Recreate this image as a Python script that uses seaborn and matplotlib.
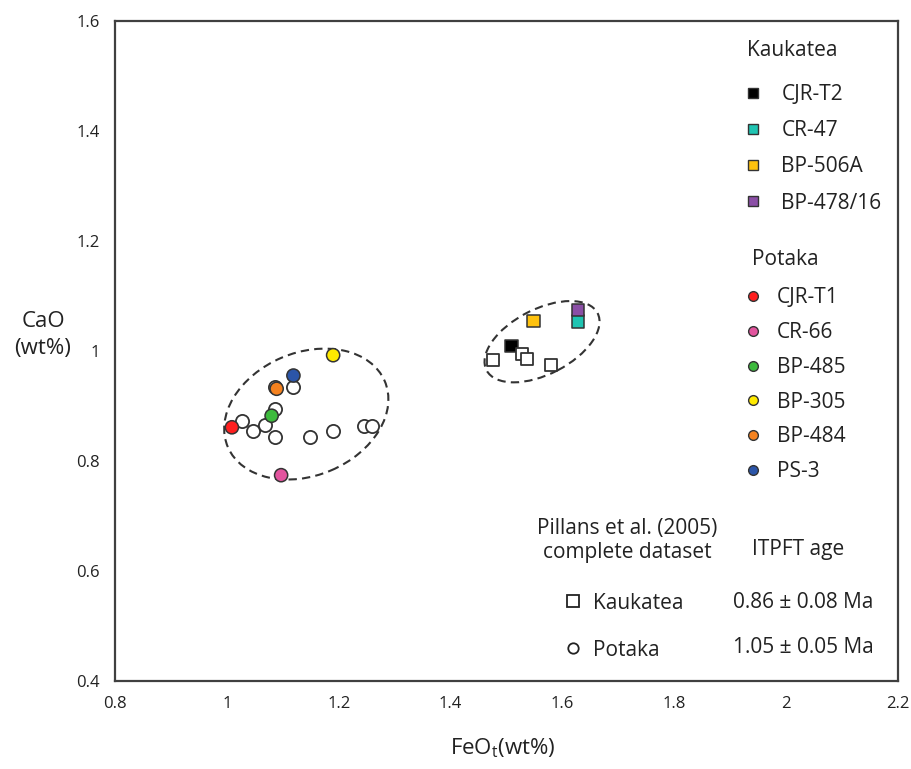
import matplotlib
matplotlib.use("Agg")
import matplotlib.pyplot as plt
from matplotlib.lines import Line2D
from matplotlib.patches import Ellipse
import pandas as pd
import seaborn as sns

# Kaukatea samples (this study)
kauk_names = ['CJR-T2', 'CR-47', 'BP-506A', 'BP-478/16']
kauk_feo = [1.509, 1.628, 1.548, 1.628]
kauk_cao = [1.009, 1.053, 1.054, 1.074]
kauk_colors = ['#000000', '#1fc4b2', '#ffc20e', '#8b4fa6']

# Potaka samples (this study)
pot_names = ['CJR-T1', 'CR-66', 'BP-485', 'BP-305', 'BP-484', 'PS-3']
pot_feo = [1.009, 1.097, 1.080, 1.190, 1.089, 1.119]
pot_cao = [0.861, 0.774, 0.882, 0.992, 0.931, 0.955]
pot_colors = ['#ff1f1f', '#e2549e', '#3dba3d', '#ffea00', '#f5821f', '#2b55a8']

# Pillans et al. (2005) complete dataset
pil_kauk_feo = [1.527, 1.537, 1.476, 1.579]
pil_kauk_cao = [0.995, 0.985, 0.984, 0.974]
pil_pot_feo = [1.027, 1.047, 1.068, 1.086, 1.086, 1.119, 1.149, 1.189, 1.246, 1.259, 1.086]
pil_pot_cao = [0.873, 0.854, 0.865, 0.895, 0.843, 0.934, 0.843, 0.854, 0.864, 0.864, 0.935]

ages = ['0.86 \u00b1 0.08 Ma', '1.05 \u00b1 0.05 Ma']

sns.set_style('white')
plt.rcParams['font.family'] = ['Open Sans', 'DejaVu Sans']
edge = '#333333'
txt = '#222222'

df_k = pd.DataFrame({'FeO': kauk_feo, 'CaO': kauk_cao, 'sample': kauk_names})
df_p = pd.DataFrame({'FeO': pot_feo, 'CaO': pot_cao, 'sample': pot_names})
df_pk = pd.DataFrame({'FeO': pil_kauk_feo, 'CaO': pil_kauk_cao})
df_pp = pd.DataFrame({'FeO': pil_pot_feo, 'CaO': pil_pot_cao})

fig = plt.figure(figsize=(9.12, 7.69), dpi=100)
ax = fig.add_axes([0.1261, 0.1144, 0.8586, 0.8589])

# group outlines
ax.add_patch(Ellipse((1.142, 0.885), 0.305, 0.223, angle=23.4, fill=False,
                     ec=edge, lw=1.5, ls=(0, (4, 2.5))))
ax.add_patch(Ellipse((1.5635, 1.0165), 0.224, 0.118, angle=27.8, fill=False,
                     ec=edge, lw=1.5, ls=(0, (4, 2.5))))

sns.scatterplot(data=df_pp, x='FeO', y='CaO', marker='o', s=90, color='white',
                edgecolor=edge, linewidth=1.3, ax=ax, zorder=3)
sns.scatterplot(data=df_p, x='FeO', y='CaO', hue='sample', marker='o', s=90,
                palette=dict(zip(pot_names, pot_colors)), edgecolor=edge,
                linewidth=1.1, legend=False, ax=ax, zorder=4)
sns.scatterplot(data=df_k, x='FeO', y='CaO', hue='sample', marker='s', s=80,
                palette=dict(zip(kauk_names, kauk_colors)), edgecolor=edge,
                linewidth=1.1, legend=False, ax=ax, zorder=3)
sns.scatterplot(data=df_pk, x='FeO', y='CaO', marker='s', s=80, color='white',
                edgecolor=edge, linewidth=1.3, ax=ax, zorder=4)

ax.set_xlim(0.8, 2.2)
ax.set_ylim(0.4, 1.6)
xt = [0.8, 1.0, 1.2, 1.4, 1.6, 1.8, 2.0, 2.2]
yt = [0.4, 0.6, 0.8, 1.0, 1.2, 1.4, 1.6]
ax.set_xticks(xt)
ax.set_xticklabels(['%g' % v for v in xt])
ax.set_yticks(yt)
ax.set_yticklabels(['%g' % v for v in yt])
ax.tick_params(direction='in', length=4.5, width=1.2, color='#404040',
               labelsize=12, pad=11, labelcolor=txt)
ax.tick_params(top=False, right=False)
for sp in ax.spines.values():
    sp.set_color('#404040')
    sp.set_linewidth(1.6)

ax.set_xlabel('')
ax.set_ylabel('')
fig.text(0.551, 1 - 748 / 769, 'FeO$_\\mathregular{t}$(wt%)', ha='center',
         va='center', fontsize=16, color=txt)
fig.text(43 / 912, 1 - 335 / 769, 'CaO\n(wt%)', ha='center', va='center',
         fontsize=16, color=txt, linespacing=1.4)

# sample legends
ax.text(0.807, 0.955, 'Kaukatea', transform=ax.transAxes, fontsize=15,
        va='center', ha='left', color=txt)
ax.text(0.814, 0.638, 'Potaka', transform=ax.transAxes, fontsize=15,
        va='center', ha='left', color=txt)

k_handles = [Line2D([], [], ls='none', marker='s', ms=6.5, mfc=c, mec=edge,
                    mew=1.0, label=n) for n, c in zip(kauk_names, kauk_colors)]
p_handles = [Line2D([], [], ls='none', marker='o', ms=7, mfc=c, mec=edge,
                    mew=1.0, label=n) for n, c in zip(pot_names, pot_colors)]

leg1 = ax.legend(handles=k_handles, loc='upper left', bbox_to_anchor=(0.807, 0.904),
                 frameon=False, fontsize=15, borderpad=0, borderaxespad=0,
                 handlelength=0.6, handletextpad=1.05, labelspacing=0.73)
for t in leg1.get_texts():
    t.set_color(txt)
ax.add_artist(leg1)
leg2 = ax.legend(handles=p_handles, loc='upper left', bbox_to_anchor=(0.807, 0.596),
                 frameon=False, fontsize=15, borderpad=0, borderaxespad=0,
                 handlelength=0.6, handletextpad=0.85, labelspacing=0.66)
for t in leg2.get_texts():
    t.set_color(txt)
ax.add_artist(leg2)

# Pillans et al. dataset key
pil_handles = [
    Line2D([], [], ls='none', marker='s', ms=8.5, mfc='white', mec=txt,
           mew=1.3, label='Kaukatea'),
    Line2D([], [], ls='none', marker='o', ms=7.5, mfc='white', mec=txt,
           mew=1.3, label='Potaka'),
]
leg3 = ax.legend(handles=pil_handles, loc='upper left', bbox_to_anchor=(0.574, 0.134),
                 frameon=False, fontsize=15, borderpad=0, borderaxespad=0,
                 handlelength=0.8, handletextpad=0.56, labelspacing=1.25)
for t in leg3.get_texts():
    t.set_color(txt)

ax.text(0.654, 0.213, 'Pillans et al. (2005)\ncomplete dataset',
        transform=ax.transAxes, ha='center', va='center', fontsize=15,
        color=txt, linespacing=1.2)
ax.text(0.872, 0.199, 'ITPFT age', transform=ax.transAxes, ha='center',
        va='center', fontsize=15, color=txt)
ax.text(0.879, 0.1196, ages[0], transform=ax.transAxes, ha='center',
        va='center', fontsize=15, color=txt)
ax.text(0.879, 0.0515, ages[1], transform=ax.transAxes, ha='center',
        va='center', fontsize=15, color=txt)

fig.savefig('out.png', dpi=100, facecolor='white')
